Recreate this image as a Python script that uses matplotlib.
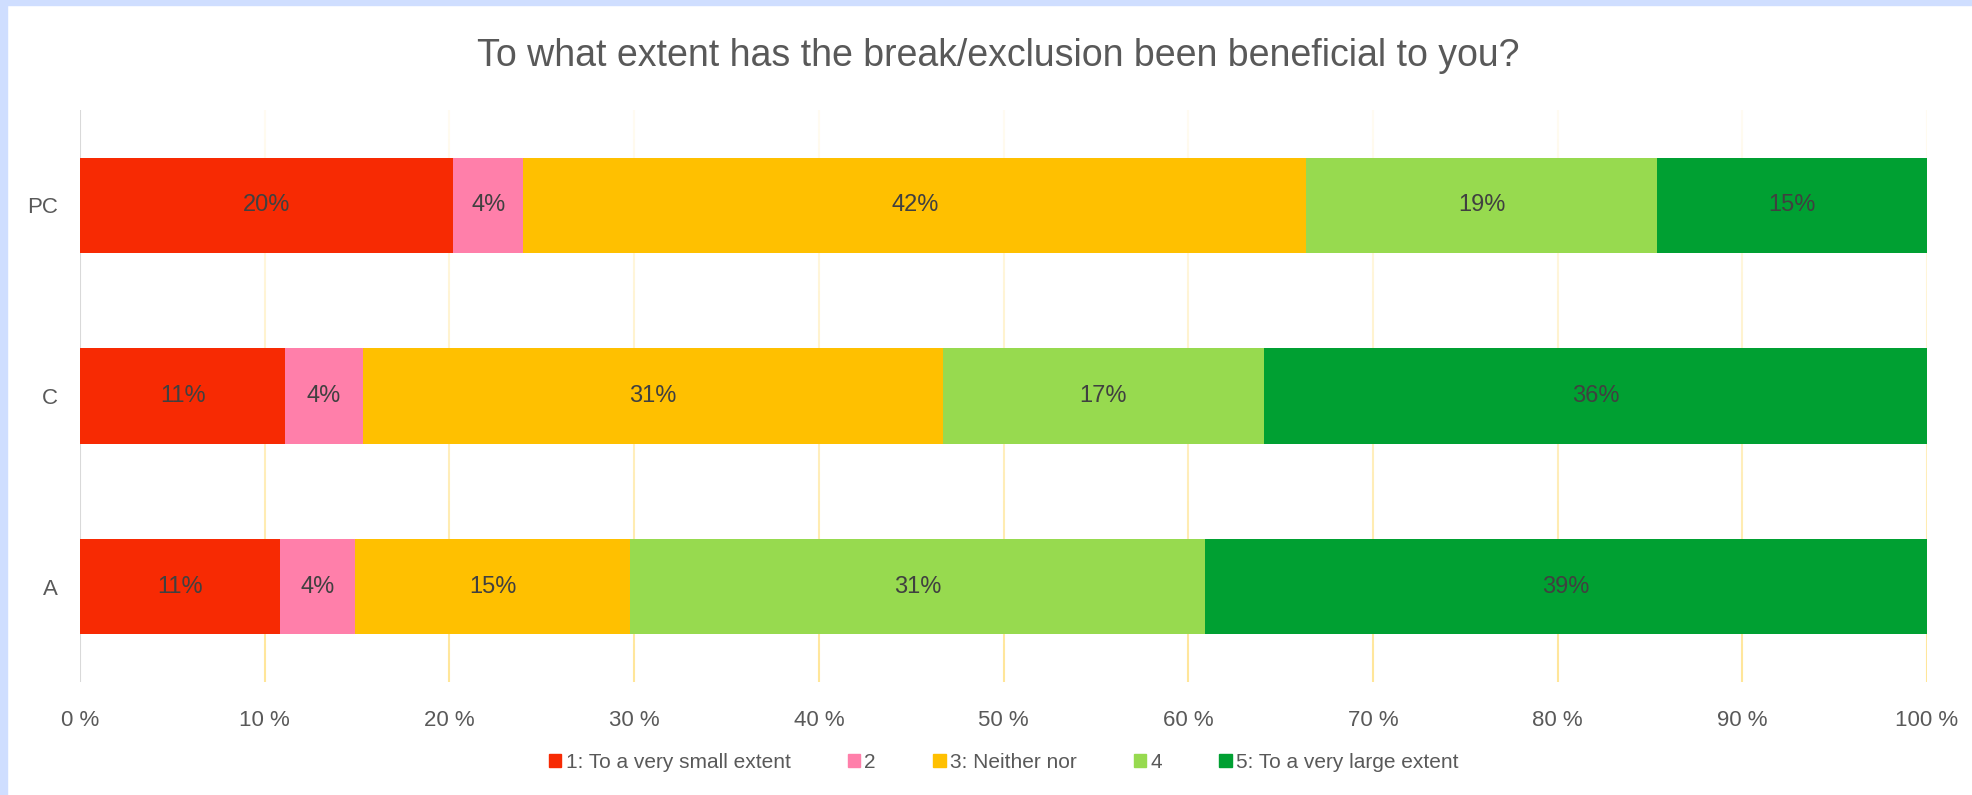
import numpy as np
import matplotlib.pyplot as plt
from matplotlib.collections import LineCollection
from matplotlib.patches import Rectangle

# share of answers per group (percent), one list per answer level
groups = ['A', 'C', 'PC']
level_names = ['1: To a very small extent', '2', '3: Neither nor', '4',
               '5: To a very large extent']
level1 = [10.8, 11.1, 20.2]
level2 = [4.1, 4.2, 3.8]
level3 = [14.9, 31.4, 42.4]
level4 = [31.1, 17.4, 19.0]
level5 = [39.1, 35.9, 14.6]
level_colors = ['#F72A03', '#FF7FAA', '#FFC000', '#97DA4F', '#00A032']
xticks = list(range(0, 101, 10))

FONT = ['Liberation Sans Narrow', 'Liberation Sans', 'DejaVu Sans']
plt.rcParams['font.family'] = FONT

fig = plt.figure(figsize=(19.72, 7.95), dpi=100)
ax = fig.add_axes([0.0406, 0.1421, 0.9366, 0.7195])

# light blue frame on the top and left edge
fig.patches.append(Rectangle((0, 0), 7 / 1972, 1, transform=fig.transFigure,
                             color='#CFDEFF', zorder=0))
fig.patches.append(Rectangle((0, 1 - 5 / 795), 1, 5 / 795, transform=fig.transFigure,
                             color='#CFDEFF', zorder=0))

ax.set_xlim(0, 100)
ax.set_ylim(-0.5, 2.5)

# gridlines fade out toward the top
n_seg = 60
ys = np.linspace(-0.5, 2.5, n_seg + 1)
for x in xticks[1:]:
    segs = [[(x, ys[i]), (x, ys[i + 1])] for i in range(n_seg)]
    alphas = np.linspace(1.0, 0.12, n_seg)
    cols = [(1.0, 0.90, 0.60, a) for a in alphas]
    ax.add_collection(LineCollection(segs, colors=cols, linewidths=1.5, zorder=1))
ax.axvline(0, color='#D9D9D9', lw=1.5, zorder=1)

ypos = np.arange(len(groups))
left = np.zeros(len(groups))
for vals, name, col in zip([level1, level2, level3, level4, level5],
                           level_names, level_colors):
    vals = np.array(vals)
    bars = ax.barh(ypos, vals, left=left, height=0.5, color=col, label=name,
                   zorder=2)
    for b, v in zip(bars, vals):
        ax.text(b.get_x() + b.get_width() / 2, b.get_y() + b.get_height() / 2,
                f'{v:.0f}%', ha='center', va='center', fontsize=17,
                color='#404040', zorder=3)
    left += vals

ax.set_yticks(ypos)
ax.set_yticklabels(groups)
ax.set_xticks(xticks)
ax.set_xticklabels([f'{t} %' for t in xticks])
ax.tick_params(axis='both', length=0, labelsize=16, labelcolor='#595959')
ax.tick_params(axis='x', pad=20)
ax.tick_params(axis='y', pad=16)
for s in ax.spines.values():
    s.set_visible(False)

fig.text(0.506, 0.929, 'To what extent has the break/exclusion been beneficial to you?',
         ha='center', va='center', fontsize=27, color='#595959')

handles = [Rectangle((0, 0), 1, 1, color=c) for c in level_colors]
fig.legend(handles, level_names, loc='center', bbox_to_anchor=(0.509, 0.041),
           ncol=5, frameon=False, fontsize=15, handlelength=0.6, handleheight=0.6,
           handletextpad=0.2, columnspacing=2.75, labelcolor='#595959')

fig.savefig('out.png', dpi=100)
